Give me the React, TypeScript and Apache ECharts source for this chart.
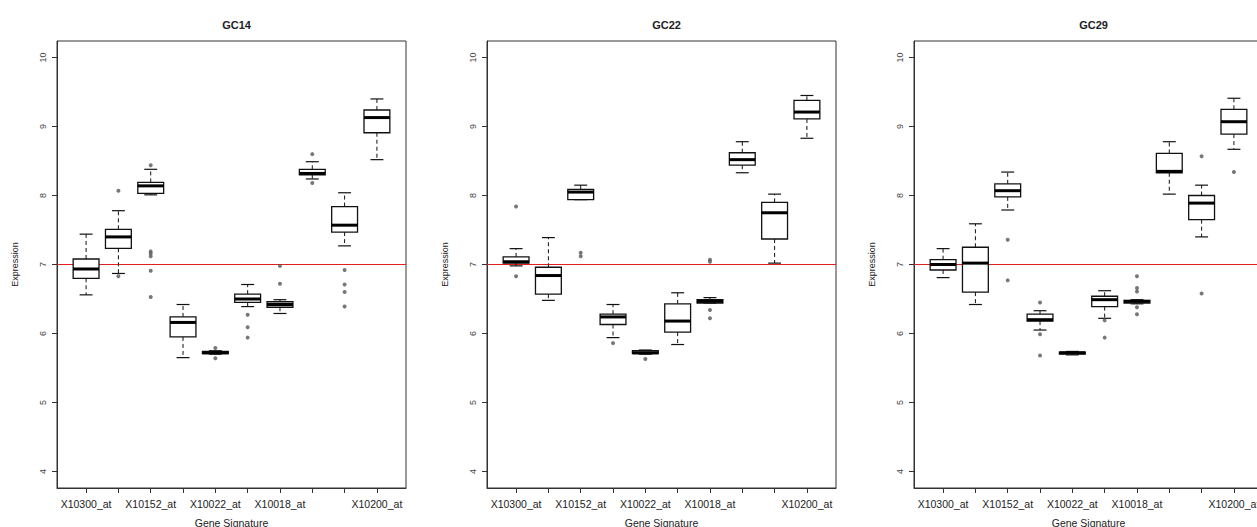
import React, { useEffect, useRef } from "react";
import * as echarts from "echarts";

// Category labels (R dropped the overlapping ones; unknown names left blank)
const categories = ["X10300_at", "", "X10152_at", "", "X10022_at", "", "X10018_at", "", "", "X10200_at"];
const panelTitles = ["GC14", "GC22", "GC29"];
const yTicks = [4, 5, 6, 7, 8, 9, 10];
const refLine = 7;

// Box statistics per category: [min, Q1, median, Q3, max]
const gc14Stats = [
  [6.56, 6.8, 6.935, 7.08, 7.44],
  [6.87, 7.235, 7.4, 7.51, 7.78],
  [8.01, 8.03, 8.14, 8.19, 8.38],
  [5.65, 5.95, 6.16, 6.24, 6.42],
  [5.7, 5.71, 5.72, 5.74, 5.75],
  [6.39, 6.45, 6.5, 6.57, 6.71],
  [6.29, 6.38, 6.42, 6.46, 6.49],
  [8.24, 8.3, 8.32, 8.38, 8.49],
  [7.27, 7.47, 7.57, 7.84, 8.04],
  [8.52, 8.91, 9.13, 9.24, 9.4],
];
// Outliers: [category position (1-based), value]
const gc14Outliers = [
  [2, 8.07], [2, 6.83],
  [3, 8.44], [3, 7.19], [3, 7.16], [3, 7.12], [3, 6.91], [3, 6.53],
  [5, 5.79], [5, 5.64],
  [6, 6.27], [6, 6.09], [6, 5.94],
  [7, 6.98], [7, 6.72],
  [8, 8.6], [8, 8.18],
  [9, 6.92], [9, 6.71], [9, 6.6], [9, 6.39],
];

const gc22Stats = [
  [6.98, 7.02, 7.04, 7.11, 7.23],
  [6.48, 6.57, 6.84, 6.96, 7.39],
  [7.94, 7.94, 8.05, 8.09, 8.15],
  [5.94, 6.13, 6.24, 6.28, 6.42],
  [5.7, 5.71, 5.72, 5.75, 5.76],
  [5.84, 6.02, 6.18, 6.43, 6.59],
  [6.44, 6.44, 6.465, 6.49, 6.52],
  [8.33, 8.44, 8.52, 8.62, 8.78],
  [7.02, 7.37, 7.75, 7.9, 8.02],
  [8.83, 9.11, 9.21, 9.38, 9.45],
];
const gc22Outliers = [
  [1, 7.84], [1, 6.83],
  [3, 7.17], [3, 7.12],
  [4, 5.86],
  [5, 5.63],
  [7, 7.07], [7, 7.04], [7, 6.34], [7, 6.22],
];

const gc29Stats = [
  [6.81, 6.92, 7.0, 7.07, 7.23],
  [6.42, 6.6, 7.02, 7.25, 7.59],
  [7.79, 7.98, 8.07, 8.17, 8.34],
  [6.05, 6.18, 6.2, 6.28, 6.33],
  [5.69, 5.7, 5.72, 5.73, 5.74],
  [6.22, 6.39, 6.49, 6.54, 6.62],
  [6.43, 6.44, 6.465, 6.48, 6.49],
  [8.02, 8.33, 8.35, 8.61, 8.78],
  [7.4, 7.65, 7.89, 8.0, 8.15],
  [8.67, 8.89, 9.07, 9.25, 9.41],
];
const gc29Outliers = [
  [3, 7.36], [3, 6.77],
  [4, 6.45], [4, 5.99], [4, 5.68],
  [6, 6.19], [6, 5.94],
  [7, 6.83], [7, 6.66], [7, 6.61], [7, 6.38], [7, 6.28],
  [9, 8.57], [9, 6.58],
  [10, 8.34],
];

const panelStats = [gc14Stats, gc22Stats, gc29Stats];
const panelOutliers = [gc14Outliers, gc22Outliers, gc29Outliers];

const FONT = "Liberation Sans, Arial, sans-serif";

export default function App() {
  const ref = useRef<HTMLDivElement>(null);

  useEffect(() => {
    if (!ref.current) return;
    const chart = echarts.init(ref.current, null, { renderer: "svg" });

    const gridLefts = [57, 487, 914];
    const positions = categories.map((_, i) => i + 1);

    const renderBox = (params: any, api: any) => {
      const x = api.value(0);
      const mn = api.value(1);
      const q1 = api.value(2);
      const md = api.value(3);
      const q3 = api.value(4);
      const mx = api.value(5);
      const half = 0.4;
      const cap = 0.2;
      const c = (a: number, b: number) => api.coord([a, b]);
      const top = c(x - half, q3);
      const bot = c(x + half, q1);
      const ln = (a: number[], b: number[], style: any) => ({
        type: "line",
        shape: { x1: a[0], y1: a[1], x2: b[0], y2: b[1] },
        style,
      });
      const dash = { stroke: "#111", lineWidth: 1, lineDash: [4, 3] };
      const solid = { stroke: "#111", lineWidth: 1.2 };
      return {
        type: "group",
        children: [
          ln(c(x, q3), c(x, mx), dash),
          ln(c(x, q1), c(x, mn), dash),
          ln(c(x - cap, mx), c(x + cap, mx), solid),
          ln(c(x - cap, mn), c(x + cap, mn), solid),
          {
            type: "rect",
            shape: { x: top[0], y: top[1], width: bot[0] - top[0], height: bot[1] - top[1] },
            style: { fill: "#fff", stroke: "#111", lineWidth: 1.3 },
          },
          ln(c(x - half, md), c(x + half, md), { stroke: "#000", lineWidth: 3 }),
        ],
      };
    };

    const option: any = {
      animation: false,
      backgroundColor: "#fff",
      textStyle: { fontFamily: FONT },
      title: panelTitles.map((t, i) => ({
        text: t,
        left: gridLefts[i] + 174.5,
        top: 14,
        textAlign: "center",
        textStyle: { fontSize: 11, fontWeight: "bold", color: "#222", fontFamily: FONT },
      })),
      grid: gridLefts.map((l) => ({
        left: l,
        top: 41,
        width: 349,
        height: 447,
        outerBoundsMode: "none",
        containLabel: false,
        show: true,
        borderColor: "#333",
        borderWidth: 1,
        backgroundColor: "transparent",
      })),
      xAxis: gridLefts.map((_, i) => ({
        type: "value",
        gridIndex: i,
        min: 0.1,
        max: 10.9,
        splitLine: { show: false },
        axisLine: { show: true, lineStyle: { color: "#333" } },
        axisTick: { show: true, length: 5, customValues: positions, lineStyle: { color: "#333" } },
        axisLabel: {
          customValues: positions,
          formatter: (v: number) => categories[Math.round(v) - 1] ?? "",
          fontSize: 10.5,
          color: "#222",
          margin: 10,
          fontFamily: FONT,
        },
        name: "Gene Signature",
        nameLocation: "middle",
        nameGap: 29,
        nameTextStyle: { fontSize: 10.5, color: "#222", fontFamily: FONT, verticalAlign: "top" },
      })),
      yAxis: gridLefts.map((_, i) => ({
        type: "value",
        gridIndex: i,
        min: 3.76,
        max: 10.24,
        splitLine: { show: false },
        axisLine: { show: true, lineStyle: { color: "#333" } },
        axisTick: { show: true, length: 5, customValues: yTicks, lineStyle: { color: "#333" } },
        axisLabel: {
          customValues: yTicks,
          rotate: 90,
          fontSize: 9,
          color: "#444",
          margin: 10,
          fontFamily: FONT,
        },
        name: "Expression",
        nameLocation: "middle",
        nameRotate: 90,
        nameGap: 38,
        nameTextStyle: { fontSize: 9, color: "#222", fontFamily: FONT },
      })),
      series: [
        ...panelStats.map((stats, i) => ({
          type: "custom",
          xAxisIndex: i,
          yAxisIndex: i,
          renderItem: renderBox,
          encode: { x: 0, y: [1, 2, 3, 4, 5] },
          data: stats.map((s, j) => [positions[j], ...s]),
          z: 3,
          markLine: {
            silent: true,
            symbol: "none",
            label: { show: false },
            lineStyle: { color: "#e02020", width: 1, type: "solid" },
            data: [{ yAxis: refLine }],
            z: 1,
          },
        })),
        ...panelOutliers.map((outs, i) => ({
          type: "scatter",
          xAxisIndex: i,
          yAxisIndex: i,
          symbol: "emptyCircle",
          symbolSize: 2,
          itemStyle: { color: "#555", borderWidth: 0.8 },
          data: outs,
          z: 4,
        })),
      ],
    };

    chart.setOption(option);
    return () => chart.dispose();
  }, []);

  return (
    <div
      ref={ref}
      style={{ position: "absolute", left: 0, top: 0, width: 1257, height: 527, background: "#fff" }}
    />
  );
}
